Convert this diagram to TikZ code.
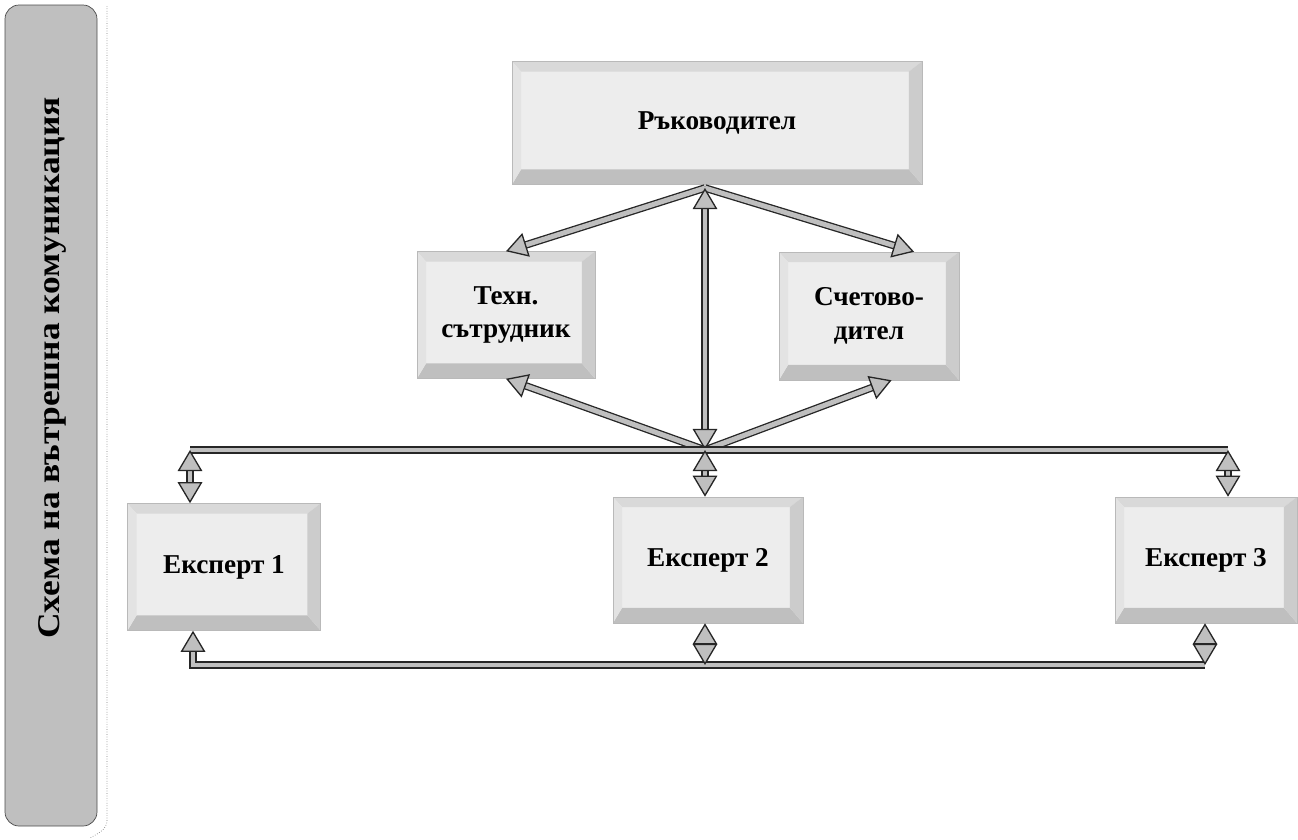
\documentclass[tikz,border=0pt]{standalone}
\usepackage{fontspec}
\setmainfont{Liberation Serif}
\usetikzlibrary{arrows.meta,calc}

\tikzset{
  box/.style={inner sep=0pt, align=center, fill=gray!14, draw=gray!55, line width=0.3pt,
    font=\bfseries\fontsize{15.5}{19}\selectfont,
    path picture={
      \coordinate (bnw) at (path picture bounding box.north west);
      \coordinate (bse) at (path picture bounding box.south east);
      \coordinate (bne) at (bse |- bnw);
      \coordinate (bsw) at (bnw |- bse);
      \fill[gray!30] (bnw) -- (bne) -- ([shift={(-13,10)}]bne) -- ([shift={(9,10)}]bnw) -- cycle;
      \fill[gray!50] (bsw) -- (bse) -- ([shift={(-13,-15)}]bse) -- ([shift={(9,-15)}]bsw) -- cycle;
      \fill[gray!22] (bnw) -- ([shift={(9,10)}]bnw) -- ([shift={(9,-15)}]bsw) -- (bsw) -- cycle;
      \fill[gray!40] (bne) -- ([shift={(-13,10)}]bne) -- ([shift={(-13,-15)}]bse) -- (bse) -- cycle;
    }},
  conn/.style={draw=black!85, double=gray!50, double distance=2.8pt, line width=0.75pt},
  >={Triangle[length=12pt,width=14pt,fill=gray!50]}
}

\begin{document}
\begin{tikzpicture}[x=0.02cm, y=-0.02cm]
\useasboundingbox (0,0) rectangle (1298,839);

% title banner
\draw[gray!60!black, fill=gray!50, rounded corners=8pt] (5,5) rectangle (97,826);
\draw[gray, densely dotted] (107,6) -- (107,820) to[out=270,in=30] (90,838);
\node[rotate=90, font=\bfseries\fontsize{18}{21}\selectfont] (title) at (52,368)
  {\scalebox{1.12}[1]{Схема на вътрешна комуникация}};

% boxes
\node[box, minimum width=8.2cm, minimum height=2.46cm] (boss) at (717,123) {Ръководител};
\node[box, minimum width=3.56cm, minimum height=2.54cm] (tech) at (506,315) {Техн.\\сътрудник};
\node[box, minimum width=3.6cm, minimum height=2.56cm] (acct) at (869,316) {Счетово-\\дител};
\node[box, minimum width=3.86cm, minimum height=2.54cm] (exp1) at (224,567) {Експерт 1};
\node[box, minimum width=3.8cm, minimum height=2.52cm] (exp2) at (708,560) {Експерт 2};
\node[box, minimum width=3.64cm, minimum height=2.52cm] (exp3) at (1206,560) {Експерт 3};

% junctions
\coordinate (apex) at (705,188);
\coordinate (hub) at (705,450);
\coordinate (tl) at (190,450);
\coordinate (tr) at (1228,450);
\coordinate (bl) at (193,665);
\coordinate (br) at (1205,665);

% top level
\draw[conn, ->] (apex) -- (tech.north);
\draw[conn, ->] (apex) -- ($(acct.north)!0.5!(acct.north east)$);
\draw[conn, <->] (apex) -- (hub);
\draw[conn, ->] (hub) -- (tech.south);
\draw[conn, ->] (hub) -- ($(acct.south)!0.25!(acct.south east)$);

% upper bus
\draw[conn] (tl) -- (tr);
\draw[conn, <->] (tl) -- (tl |- exp1.north);
\draw[conn, <->] (hub) -- (hub |- exp2.north);
\draw[conn, <->] (tr) -- (tr |- exp3.north);

% lower bus
\draw[conn, <-] (bl |- exp1.south) -- (bl) -- (br);
\draw[conn, <->] (hub |- exp2.south) -- (hub |- bl);
\draw[conn, <->] (br |- exp3.south) -- (br);

\end{tikzpicture}
\end{document}
